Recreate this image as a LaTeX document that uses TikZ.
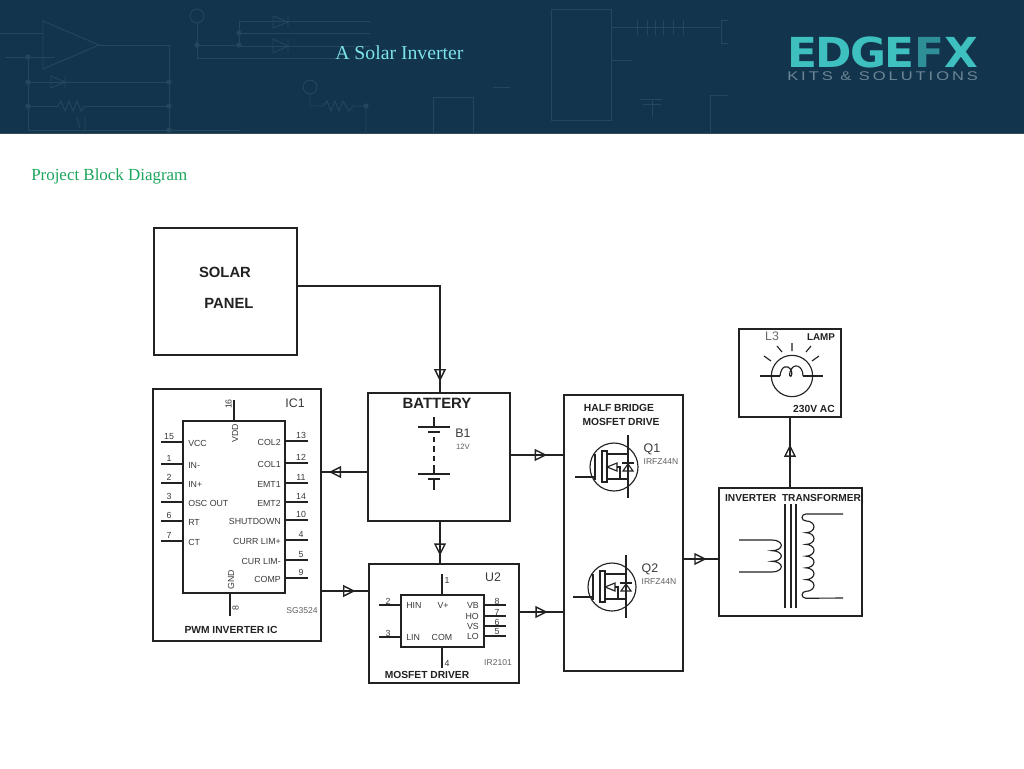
\documentclass[tikz,border=0pt]{standalone}
\usepackage{fontspec}
\usepackage{graphicx}
\setmainfont{Liberation Sans}
\newfontfamily\serifface{Liberation Serif}
\usetikzlibrary{fit}
\definecolor{hdr}{HTML}{12344C}
\definecolor{faint}{HTML}{25475E}
\definecolor{ink}{HTML}{222222}
\definecolor{txt}{HTML}{3A3A3A}
\definecolor{titlec}{HTML}{7DE3EA}
\definecolor{greenc}{HTML}{1CA55C}
\definecolor{logoa}{HTML}{3FC0C0}
\definecolor{logob}{HTML}{2F8F98}
\definecolor{logoc}{HTML}{6C8695}
\tikzset{
  x=0.75pt,y=-0.75pt,
  wire/.style={draw=ink,line width=1.05pt},
  thinw/.style={draw=ink,line width=0.85pt},
  boxn/.style={draw=ink,line width=1.2pt,inner sep=0pt,rectangle},
  bg/.style={draw=faint,line width=0.7pt},
  pinl/.style={font=\fontsize{6.6}{8}\selectfont,text=txt,inner sep=0pt},
  numl/.style={font=\fontsize{6.6}{8}\selectfont,text=txt,inner sep=0pt},
  refl/.style={font=\fontsize{9.3}{11}\selectfont,text=txt,inner sep=0pt},
  partl/.style={font=\fontsize{6.4}{8}\selectfont,text=txt!80!white,inner sep=0pt},
  headb/.style={font=\fontsize{7.7}{9}\selectfont\bfseries,text=ink,inner sep=0pt},
  tri/.pic={\draw[wire,line join=miter] (-5,-5) -- (5,0) -- (-5,5) -- cycle;},
  onw/.style={pos=#1,sloped,allow upside down},
  mosfet/.pic={
    \draw[thinw] (0,0) circle[radius=18pt];
    \draw[thinw] (14,-32) -- (14,31);
    \draw[thinw] (-39,10) -- (-19,10) (-19,-13) -- (-19,13);
    \draw[thinw] (-12,-16) rectangle (-7,15);
    \draw[thinw] (-7,-13) -- (14,-13) (-7,12) -- (14,12);
    \draw[thinw] (-7,0) -- (3,-4) -- (3,4) -- cycle;
    \draw[thinw] (3,0) -- (6,0) -- (6,11);
    \draw[thinw] (9,4) -- (19,4) -- (14,-3) -- cycle;
    \draw[thinw] (8,-4) -- (20,-4);
  }
}
\begin{document}
\begin{tikzpicture}
\useasboundingbox (0,0) rectangle (1024,768);
\fill[white] (0,0) rectangle (1024,768);
\fill[hdr] (0,0) rectangle (1024,134);
\draw[draw=hdr!70!gray,line width=0.6pt] (0,133.5) -- (1024,133.5);
% faint circuit artwork in the banner
\draw[bg] (43,21) -- (99,45) -- (43,69) -- cycle;
\draw[bg] (99,45) -- (169,45) -- (169,131);
\draw[bg] (0,33) -- (43,33) (5,57) -- (55,57) (28,57) -- (28,130);
\draw[bg] (28,82) -- (169,82) (28,106) -- (58,106) (85,106) -- (169,106) (28,130) -- (240,130);
\draw[bg] (51,76) -- (65,82) -- (51,88) -- cycle (65,76) -- (65,88);
\draw[bg] (58,106) -- (61,101) -- (65,111) -- (69,101) -- (73,111) -- (77,101) -- (81,111) -- (85,106);
\draw[bg] (85,117) -- (85,134) (77,118) -- (80,128);
\foreach \p in {(28,57),(28,82),(28,106),(169,82),(169,106),(169,130),(197,45),(239,33),(239,45),(366,106)}
  \fill[faint] \p circle[radius=2pt];
\draw[bg] (197,16) circle[radius=5.2pt];
\draw[bg] (197,23) -- (197,58) -- (350,58) (197,45) -- (239,45) (239,21) -- (239,46);
\draw[bg] (239,21) -- (370,21) (239,33) -- (370,33) (239,46) -- (370,46);
\draw[bg] (273,16) -- (288,22) -- (273,28) -- cycle (288,16) -- (288,28);
\draw[bg] (273,39) -- (288,46) -- (273,53) -- cycle (288,39) -- (288,53);
\draw[bg] (310,87) circle[radius=5.2pt];
\draw[bg] (310,94) -- (310,106) -- (323,106) -- (327,101) -- (331,111) -- (335,101) -- (339,111) -- (343,101) -- (349,111) -- (353,106) -- (368,106) (366,106) -- (366,134);
\draw[bg] (433,134) -- (433,97) -- (473,97) -- (473,134) (493,87) -- (510,87);
\draw[bg] (551,9) rectangle (611,120);
\draw[bg] (612,60) -- (632,60) (611,27) -- (637,27) (683,27) -- (720,27);
\foreach \xx in {637,647,655,663,673,683} \draw[bg] (\xx,20) -- (\xx,35);
\draw[bg] (637,27) -- (683,27);
\draw[bg] (728,20) -- (721,20) -- (721,43) -- (728,43);
\draw[bg] (640,99) -- (662,99) (652,100) -- (652,117) (643,104) -- (661,104);
\draw[bg] (728,95) -- (710,95) -- (710,134);
% banner text
\node[anchor=base west,inner sep=0pt,text=titlec,font=\serifface\fontsize{14.8}{17}\selectfont] (title) at (335,59) {A Solar Inverter};
\node[anchor=base west,inner sep=0pt,text=greenc,font=\serifface\fontsize{12.7}{15}\selectfont] (sub) at (31,180) {Project Block Diagram};
\node[anchor=base west,inner sep=0pt] (logo) at (787,67) {\resizebox{143pt}{23pt}{\fontspec[LetterSpace=-4]{DejaVu Sans Bold}\textcolor{logoa}{EDGE}\textcolor{logob}{F}\textcolor{logoa}{X}}};
\node[anchor=base west,inner sep=0pt] (logotxt) at (787,80.5) {\resizebox{143pt}{6.6pt}{\addfontfeature{LetterSpace=18}\textcolor{logoc}{KITS \& SOLUTIONS}}};
% blocks
\node[boxn,fit={(154,228)(297,355)}] (solar) {};
\node[boxn,fit={(153,389)(321,641)}] (ic) {};
\node[boxn,fit={(183,421)(285,593)}] (chip) {};
\node[boxn,fit={(368,393)(510,521)}] (bat) {};
\node[boxn,fit={(369,564)(519,683)}] (drv) {};
\node[boxn,fit={(401,595)(484,647)}] (u2) {};
\node[boxn,fit={(564,395)(683,671)}] (half) {};
\node[boxn,fit={(719,488)(862,616)}] (trans) {};
\node[boxn,fit={(739,329)(841,417)}] (lamp) {};
% connectors
\draw[wire] (solar.east |- 0,286) -| pic[onw=.918]{tri} (440,0 |- bat.north);
\draw[wire] (bat.west |- 0,472) -- pic[onw=.70]{tri} (ic.east |- 0,472);
\draw[wire] (ic.east |- 0,591) -- pic[onw=.58]{tri} (drv.west |- 0,591);
\draw[wire] (bat.east |- 0,455) -- pic[onw=.565]{tri} (half.west |- 0,455);
\draw[wire] (440,0 |- bat.south) -- pic[onw=.66]{tri} (440,0 |- drv.north);
\draw[wire] (drv.east |- 0,612) -- pic[onw=.49]{tri} (half.west |- 0,612);
\draw[wire] (half.east |- 0,559) -- pic[onw=.47]{tri} (trans.west |- 0,559);
\draw[wire] (790,0 |- trans.north) -- pic[onw=.52]{tri} (790,0 |- lamp.south);
% solar text
\node[inner sep=0pt,text=ink,font=\fontsize{11.1}{13}\selectfont\bfseries] (solart) at (225,272) {SOLAR};
\node[inner sep=0pt,text=ink,font=\fontsize{11.1}{13}\selectfont\bfseries] (panelt) at (229,303) {PANEL};
% IC1 pins
\foreach \n/\yy/\t in {15/442/VCC,1/464/IN-,2/483/IN+,3/502/OSC OUT,6/521/RT,7/541/CT}{
  \draw[wire] (chip.west |- 0,\yy) -- ++(-21,0);
  \node[numl] at (169,\yy-5.5) {\n};
  \node[pinl,anchor=west] at (188,\yy+1) {\t};
}
\foreach \n/\yy/\t in {13/441/COL2,12/463/COL1,11/483/EMT1,14/502/EMT2,10/520/SHUTDOWN,4/540/CURR LIM+,5/560/CUR LIM-,9/578/COMP}{
  \draw[wire] (chip.east |- 0,\yy) -- ++(22,0);
  \node[numl] at (301,\yy-5.5) {\n};
  \node[pinl,anchor=east] at (281,\yy+1) {\t};
}
\draw[wire] (234,0 |- chip.north) -- (234,400);
\draw[wire] (230,0 |- chip.south) -- (230,616);
\node[numl,rotate=90] at (228.5,404) {16};
\node[pinl,rotate=90] at (235,433) {VDD};
\node[pinl,rotate=90] at (231,580) {GND};
\node[numl,rotate=90] at (235.5,608) {8};
\node[refl] at (295,403) {IC1};
\node[partl] at (302,611) {SG3524};
\node[headb] at (231,630) {PWM INVERTER IC};
% battery
\node[inner sep=0pt,text=ink,font=\fontsize{11.2}{13}\selectfont\bfseries] at (437,403) {BATTERY};
\draw[wire] (434,417) -- (434,427) (418,427) -- (450,427);
\draw[wire,line width=1.4pt] (428,432) -- (440,432);
\draw[wire,dash pattern=on 4pt off 3pt] (434,437) -- (434,470);
\draw[wire] (434,470) -- (434,474) (418,474) -- (450,474);
\draw[wire,line width=1.4pt] (428,479) -- (440,479);
\draw[wire] (434,479) -- (434,490);
\node[refl] at (463,433) {B1};
\node[partl,font=\fontsize{5.8}{7}\selectfont] at (463,447) {12V};
% driver
\draw[wire] (442,0 |- u2.north) -- (442,574);
\draw[wire] (442,0 |- u2.south) -- (442,668);
\node[numl] at (447,580) {1};
\node[numl] at (447,663) {4};
\foreach \n/\yy/\t in {2/605/HIN,3/637/LIN}{
  \draw[wire] (u2.west |- 0,\yy) -- ++(-21,0);
  \node[numl] at (388,\yy-4) {\n};
  \node[pinl,anchor=west] at (406,\yy) {\t};
}
\foreach \n/\yy/\t in {8/605/VB,7/616/HO,6/626/VS,5/636/LO}{
  \draw[wire] (u2.east |- 0,\yy) -- ++(21,0);
  \node[numl] at (497,\yy-4) {\n};
  \node[pinl,anchor=east] at (479,\yy) {\t};
}
\node[pinl] at (443,605) {V+};
\node[pinl] at (442,637) {COM};
\node[refl] at (493,577) {U2};
\node[partl] at (498,663) {IR2101};
\node[headb] at (427,675) {MOSFET DRIVER};
% half bridge
\node[headb] at (619,408) {HALF BRIDGE};
\node[headb] at (621,422) {MOSFET DRIVE};
\pic at (614,467) {mosfet};
\pic at (612,587) {mosfet};
\node[refl] at (652,449) {Q1};
\node[partl] at (661,462) {IRFZ44N};
\node[refl] at (650,569) {Q2};
\node[partl] at (659,582) {IRFZ44N};
% lamp
\node[refl,text=txt!75!white] at (772,336) {L3};
\node[headb,font=\fontsize{7.4}{9}\selectfont\bfseries] at (821,337) {LAMP};
\node[headb] at (814,409) {230V AC};
\draw[thinw] (792,376) circle[radius=15.5pt];
\draw[thinw] (760,376) -- (780,376) (803,376) -- (823,376);
\draw[thinw] (780,376) .. controls (781,366) and (787,364) .. (791,370) .. controls (794,377) and (788,379) .. (790,372) .. controls (793,362) and (803,365) .. (803,376);
\draw[thinw] (792,343) -- (792,351) (777,346) -- (782,352) (806,352) -- (811,346) (764,356) -- (771,361) (812,361) -- (819,356);
% transformer
\node[headb,font=\fontsize{7.6}{9}\selectfont\bfseries] at (793,498) {INVERTER\ \ TRANSFORMER};
\draw[thinw] (785,504) -- (785,608) (791,504) -- (791,608) (796,504) -- (796,608);
\draw[thinw] (739,540) -- (772,540)
  arc[start angle=90,end angle=-90,x radius=7pt,y radius=4pt]
  arc[start angle=90,end angle=-90,x radius=7pt,y radius=4pt]
  arc[start angle=90,end angle=-90,x radius=7pt,y radius=4pt]
  -- (739,572);
\draw[thinw] (843,514) -- (806,514)
  arc[start angle=90,end angle=270,x radius=3pt,y radius=2.6pt]
  arc[start angle=90,end angle=-90,x radius=6pt,y radius=4.4pt]
  arc[start angle=90,end angle=-90,x radius=6pt,y radius=4.4pt]
  arc[start angle=90,end angle=-90,x radius=6pt,y radius=4.4pt]
  arc[start angle=90,end angle=-90,x radius=6pt,y radius=4.4pt]
  arc[start angle=90,end angle=-90,x radius=6pt,y radius=4.4pt]
  arc[start angle=90,end angle=-90,x radius=6pt,y radius=4.4pt]
  arc[start angle=90,end angle=270,x radius=3pt,y radius=2.6pt]
  -- (843,598);
\end{tikzpicture}
\end{document}
